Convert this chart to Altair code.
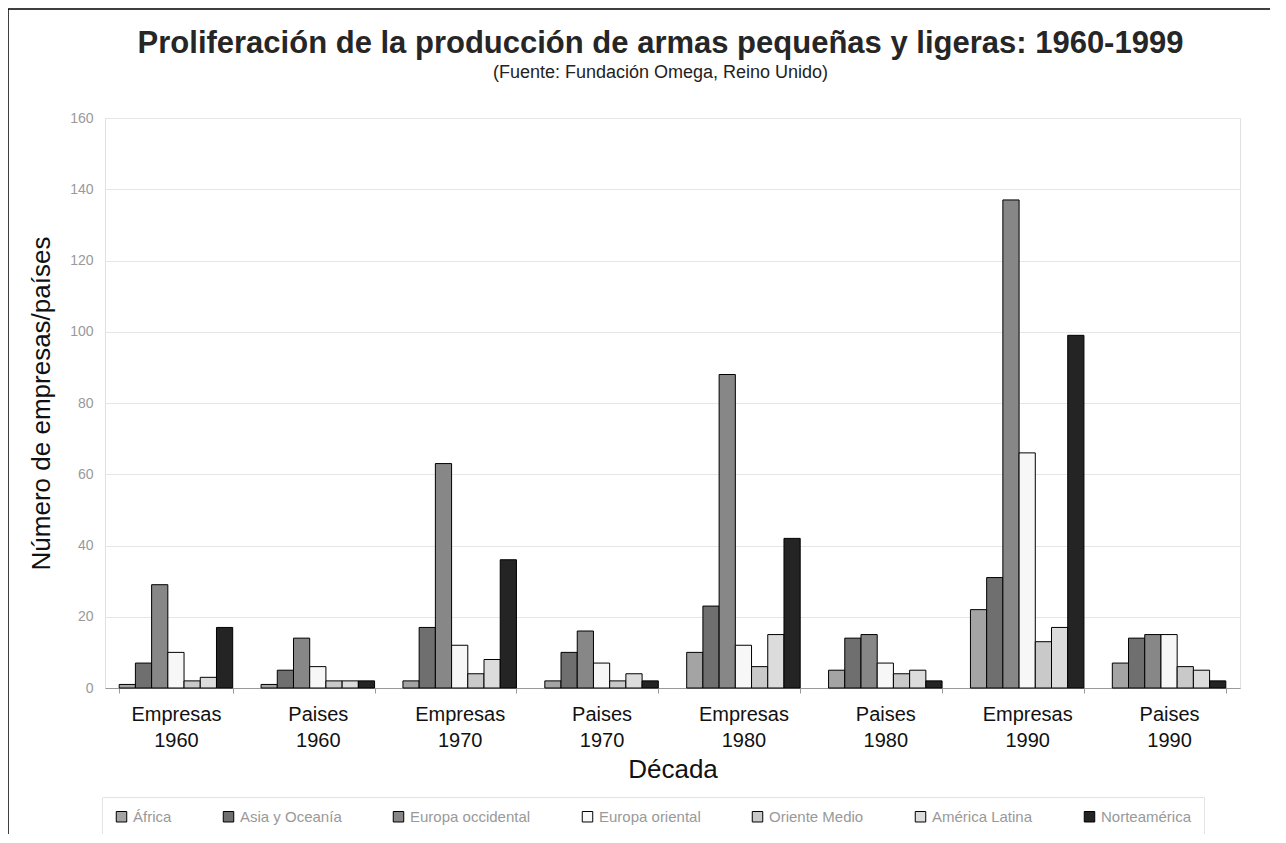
import altair as alt
import pandas as pd

categories = ["Empresas 1960", "Paises 1960", "Empresas 1970", "Paises 1970",
              "Empresas 1980", "Paises 1980", "Empresas 1990", "Paises 1990"]
regions = ["África", "Asia y Oceanía", "Europa occidental", "Europa oriental",
           "Oriente Medio", "América Latina", "Norteamérica"]
africa = [1, 1, 2, 2, 10, 5, 22, 7]
asia = [7, 5, 17, 10, 23, 14, 31, 14]
europa_occ = [29, 14, 63, 16, 88, 15, 137, 15]
europa_or = [10, 6, 12, 7, 12, 7, 66, 15]
oriente = [2, 2, 4, 2, 6, 4, 13, 6]
latam = [3, 2, 8, 4, 15, 5, 17, 5]
norte = [17, 2, 36, 2, 42, 2, 99, 2]
colors = ["#a4a4a4", "#6f6f6f", "#878787", "#f7f7f7", "#c9c9c9", "#dcdcdc", "#242424"]

series = [africa, asia, europa_occ, europa_or, oriente, latam, norte]
rows = []
for r, vals in zip(regions, series):
    for c, v in zip(categories, vals):
        rows.append({"cat": c, "region": r, "value": v})
df = pd.DataFrame(rows)

W, H = 1135, 570
FONT = "Liberation Sans"

bars = alt.Chart(df).mark_bar(stroke="black", strokeWidth=1).encode(
    x=alt.X("cat:N", sort=categories,
            scale=alt.Scale(paddingInner=0.2, paddingOuter=0.1),
            axis=alt.Axis(title="Década", labelAngle=0,
                          labelExpr="split(datum.label, ' ')",
                          labelFontSize=20, labelColor="#111", labelFont=FONT,
                          labelLineHeight=26, labelPadding=11, labelBaseline="top",
                          tickBand="extent", tickSize=5, tickColor="#999",
                          domainColor="#999", titleFontSize=26, titleFont=FONT,
                          titleFontWeight="normal", titleColor="#111",
                          titlePadding=6, grid=False)),
    xOffset=alt.XOffset("region:N", sort=regions, scale=alt.Scale(paddingInner=0, paddingOuter=0)),
    y=alt.Y("value:Q", scale=alt.Scale(domain=[0, 160]),
            axis=alt.Axis(title="Número de empresas/países", values=list(range(0, 161, 20)),
                          labelFontSize=14, labelColor="#999", labelFont=FONT,
                          labelPadding=12, ticks=False, domain=False,
                          gridColor="#e6e6e6", titleFontSize=26, titleFont=FONT,
                          titleFontWeight="normal", titleColor="#111", titlePadding=15)),
    color=alt.Color("region:N", sort=regions,
                    scale=alt.Scale(domain=regions, range=colors),
                    legend=alt.Legend(title=None, orient="none", legendX=-3, legendY=679,
                                      direction="horizontal", columns=7, columnPadding=49,
                                      symbolType="square", symbolSize=110,
                                      symbolStrokeColor="black", symbolStrokeWidth=1,
                                      labelFontSize=15, labelColor="#999", labelFont=FONT,
                                      strokeColor="#e3e3e3", padding=12, fillColor="white")),
)

frame = alt.Chart(alt.Data(values=[{}])).mark_rect(
    fill=None, stroke="black", strokeWidth=1.5, clip=False
).encode(
    x=alt.value(-97), x2=alt.value(1400), y=alt.value(-109), y2=alt.value(900)
)

chart = alt.layer(frame, bars).properties(
    width=W, height=H,
    title=alt.TitleParams(
        text="Proliferación de la producción de armas pequeñas y ligeras: 1960-1999",
        subtitle="(Fuente: Fundación Omega, Reino Unido)",
        fontSize=31, font=FONT, fontWeight="bold", color="#262626",
        subtitleFontSize=18, subtitleFont=FONT, subtitleColor="#222",
        subtitlePadding=4, anchor="middle", dx=-12, offset=-75, frame="group"),
    autosize=alt.AutoSizeParams(type="none"),
    padding={"left": 97, "top": 110, "right": 30, "bottom": 146},
).configure_view(stroke="#e0e0e0")

chart.save("out.html", embed_options={"renderer": "svg", "actions": False})
